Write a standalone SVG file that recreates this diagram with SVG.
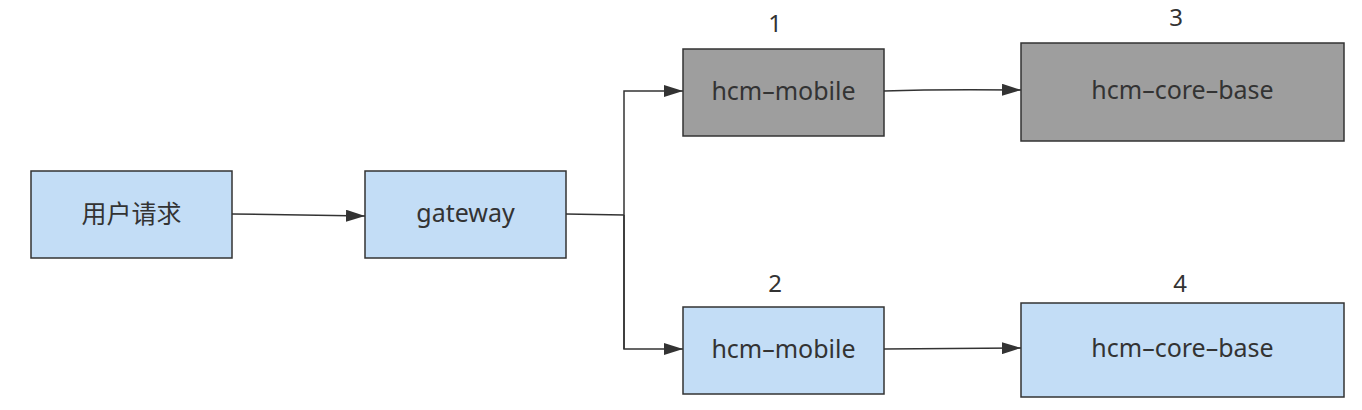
<svg xmlns="http://www.w3.org/2000/svg" width="1362" height="410" viewBox="0 0 1362 410">
<defs>
<style>
.box{stroke:#333;stroke-width:1.5}
.blue{fill:#c3ddf6}
.gray{fill:#9e9e9e}
.t{font-family:"Noto Sans","Noto Sans CJK SC",sans-serif;font-size:25px;fill:#333;text-anchor:middle;dominant-baseline:central}
.n{font-family:"Noto Sans",sans-serif;font-size:24px;fill:#333;text-anchor:middle}
.c{fill:none;stroke:#333;stroke-width:1.5}
</style>
<marker id="arr" markerWidth="19" markerHeight="12" refX="19" refY="6" orient="auto" markerUnits="userSpaceOnUse">
<path d="M0,0 L19,6 L0,12 Z" fill="#333"/>
</marker>
</defs>
<rect width="1362" height="410" fill="#fff"/>
<g id="connectors">
<path class="c" d="M232,214 L365,216" marker-end="url(#arr)"/>
<path class="c" d="M566,214 L624,215"/>
<path class="c" d="M624,349 L624,91 L683,91" marker-end="url(#arr)"/>
<path class="c" d="M624,215 L624,349 L683,349" marker-end="url(#arr)"/>
<path class="c" d="M884,91 Q940,89 1021,90" marker-end="url(#arr)"/>
<path class="c" d="M884,349 L1021,348" marker-end="url(#arr)"/>
</g>
<g id="user">
<rect class="box blue" x="31" y="171" width="201" height="87"/>
<text class="t" x="131.5" y="213">用户请求</text>
</g>
<g id="gateway">
<rect class="box blue" x="365" y="171" width="201" height="87"/>
<text class="t" x="465.5" y="212">gateway</text>
</g>
<g id="mobile1">
<rect class="box gray" x="683" y="49" width="201" height="87"/>
<text class="t" x="783.5" y="89.5">hcm–mobile</text>
<text class="n" x="775" y="32">1</text>
</g>
<g id="mobile2">
<rect class="box blue" x="683" y="307" width="201" height="87"/>
<text class="t" x="783.5" y="347.5">hcm–mobile</text>
<text class="n" x="775" y="292">2</text>
</g>
<g id="core3">
<rect class="box gray" x="1021" y="43" width="323" height="98"/>
<text class="t" x="1182.5" y="89">hcm–core–base</text>
<text class="n" x="1176" y="26">3</text>
</g>
<g id="core4">
<rect class="box blue" x="1021" y="303" width="323" height="94"/>
<text class="t" x="1182.5" y="347">hcm–core–base</text>
<text class="n" x="1180" y="292">4</text>
</g>
</svg>
